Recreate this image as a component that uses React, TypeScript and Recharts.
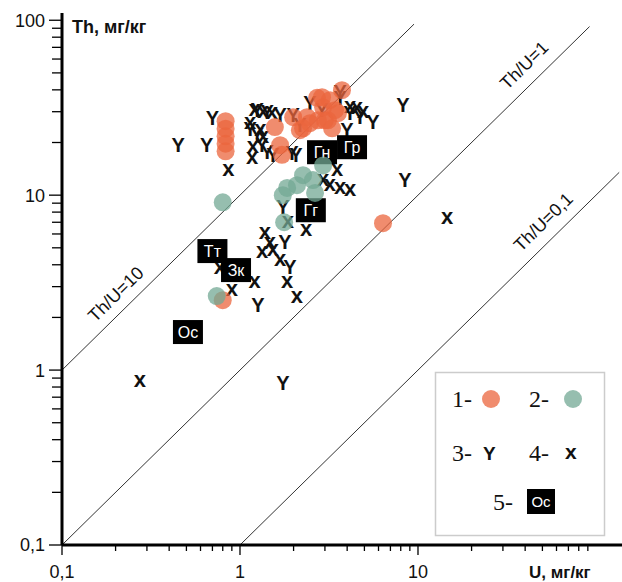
import React from 'react';
import { ScatterChart, Scatter, XAxis, YAxis, ReferenceLine } from 'recharts';

const SANS = '"Liberation Sans", Arial, sans-serif';
const SERIF = '"Liberation Serif", "Times New Roman", serif';

// ---- axis ticks ----
const xTickValues = [0.1, 0.2, 0.3, 0.4, 0.5, 0.6, 0.7, 0.8, 0.9, 1, 2, 3, 4, 5, 6, 7, 8, 9, 10, 20, 30, 40, 50, 60, 70, 80, 90];
const yTickValues = [0.1, 0.2, 0.3, 0.4, 0.5, 0.6, 0.7, 0.8, 0.9, 1, 2, 3, 4, 5, 6, 7, 8, 9, 10, 20, 30, 40, 50, 60, 70, 80, 90, 100];
const xLabelValues = [0.1, 1, 10];
const xLabelTexts = ['0,1', '1', '10'];
const yLabelValues = [0.1, 1, 10, 100];
const yLabelTexts = ['0,1', '1', '10', '100'];

// ---- data: U (x), Th (y), mg/kg ----
const group1Orange = [
  { u: 0.83, th: 26.5 }, { u: 0.83, th: 24.0 }, { u: 0.83, th: 21.7 }, { u: 0.83, th: 19.7 }, { u: 0.83, th: 17.8 },
  { u: 1.57, th: 24.5 }, { u: 1.68, th: 19.3 }, { u: 1.72, th: 17.0 }, { u: 1.99, th: 27.9 }, { u: 2.17, th: 23.5 },
  { u: 2.26, th: 24.1 }, { u: 2.38, th: 27.9 }, { u: 2.47, th: 25.8 }, { u: 2.71, th: 36.0 }, { u: 2.74, th: 26.8 },
  { u: 2.89, th: 36.3 }, { u: 2.93, th: 31.8 }, { u: 3.0, th: 26.8 }, { u: 3.12, th: 26.8 }, { u: 3.2, th: 34.9 },
  { u: 3.29, th: 24.1 }, { u: 3.42, th: 30.6 }, { u: 3.55, th: 29.4 }, { u: 3.74, th: 39.8 }, { u: 6.36, th: 6.92 },
  { u: 0.80, th: 2.51 },
];

const group2Teal = [
  { u: 0.80, th: 9.1 }, { u: 2.93, th: 14.8 }, { u: 2.26, th: 13.0 }, { u: 2.57, th: 12.2 }, { u: 2.09, th: 11.4 },
  { u: 1.84, th: 11.0 }, { u: 1.74, th: 10.0 }, { u: 2.64, th: 10.3 }, { u: 1.77, th: 7.0 }, { u: 0.74, th: 2.65 },
];

const group3Y = [
  { u: 0.45, th: 19.3 }, { u: 0.65, th: 19.3 }, { u: 0.70, th: 27.6 }, { u: 1.25, th: 30.6 }, { u: 1.42, th: 29.8 },
  { u: 1.68, th: 28.7 }, { u: 1.14, th: 24.1 }, { u: 1.25, th: 22.0 }, { u: 1.33, th: 19.3 }, { u: 1.42, th: 17.6 },
  { u: 1.53, th: 16.9 }, { u: 2.06, th: 16.9 }, { u: 2.47, th: 33.6 }, { u: 2.89, th: 30.6 }, { u: 2.17, th: 25.1 },
  { u: 3.65, th: 36.0 }, { u: 4.15, th: 29.4 }, { u: 4.72, th: 27.9 }, { u: 5.59, th: 26.1 }, { u: 3.99, th: 23.5 },
  { u: 8.24, th: 32.7 }, { u: 8.45, th: 12.2 }, { u: 1.74, th: 8.54 }, { u: 1.79, th: 5.39 }, { u: 1.91, th: 3.88 },
  { u: 1.26, th: 2.35 }, { u: 1.74, th: 0.843 }, { u: 3.65, th: 38.8 }, { u: 1.99, th: 28.7 }, { u: 1.96, th: 17.4 },
];

const group4X = [
  { u: 0.86, th: 13.9 }, { u: 1.17, th: 16.3 }, { u: 1.21, th: 30.6 }, { u: 1.35, th: 29.8 }, { u: 1.51, th: 29.4 },
  { u: 1.14, th: 25.8 }, { u: 1.30, th: 23.5 }, { u: 1.35, th: 21.4 }, { u: 1.18, th: 18.8 }, { u: 4.15, th: 31.8 },
  { u: 4.54, th: 31.3 }, { u: 4.91, th: 29.8 }, { u: 3.51, th: 13.9 }, { u: 2.93, th: 12.2 }, { u: 3.2, th: 11.4 },
  { u: 3.65, th: 11.0 }, { u: 4.15, th: 10.7 }, { u: 1.86, th: 7.0 }, { u: 2.35, th: 6.31 }, { u: 1.38, th: 6.07 },
  { u: 1.47, th: 5.32 }, { u: 1.33, th: 4.72 }, { u: 1.53, th: 4.85 }, { u: 1.68, th: 4.25 }, { u: 1.84, th: 3.18 },
  { u: 2.09, th: 2.61 }, { u: 1.21, th: 3.18 }, { u: 0.77, th: 3.83 }, { u: 0.90, th: 2.86 }, { u: 14.6, th: 7.39 },
  { u: 0.274, th: 0.865 },
];

const group5Boxes = [
  { u: 2.89, th: 17.6, label: 'Гн' },
  { u: 4.26, th: 18.8, label: 'Гр' },
  { u: 2.5, th: 8.2, label: 'Гг' },
  { u: 0.70, th: 4.79, label: 'Тт' },
  { u: 0.95, th: 3.73, label: 'Зк' },
  { u: 0.51, th: 1.65, label: 'Ос' },
];

const ratioLines = [
  { from: { x: 0.1, y: 1 }, to: { x: 9.5, y: 95 } },
  { from: { x: 0.1, y: 0.1 }, to: { x: 92, y: 92 } },
  { from: { x: 1, y: 0.1 }, to: { x: 135, y: 13.5 } },
];

const ratioLabels = [
  { u: 0.2, th: 2.72, text: 'Th/U=10' },
  { u: 39.4, th: 55.5, text: 'Th/U=1' },
  { u: 50.4, th: 7.05, text: 'Th/U=0,1' },
];

const ORANGE = '#EB663E';
const TEAL = '#73A894';
const ANGLE = -44.5;

const XTick = (props: any) => {
  const { x, y, payload } = props;
  const idx = xLabelValues.indexOf(payload.value);
  const major = idx >= 0;
  return (
    <g>
      <line x1={x} x2={x} y1={y} y2={y + (major ? 10 : 6)} stroke="#000" strokeWidth={1.3} />
      {major && (
        <text x={x} y={y + 33} textAnchor="middle" fontSize={18} fontFamily={SANS} fill="#111">
          {xLabelTexts[idx]}
        </text>
      )}
    </g>
  );
};

const YTick = (props: any) => {
  const { x, y, payload } = props;
  const idx = yLabelValues.indexOf(payload.value);
  const major = idx >= 0;
  return (
    <g>
      <line x1={x - (major ? 13 : 10)} x2={x} y1={y} y2={y} stroke="#000" strokeWidth={1.3} />
      {major && (
        <text x={x - 17} y={y} dy="0.36em" textAnchor="end" fontSize={18} fontFamily={SANS} fill="#111">
          {yLabelTexts[idx]}
        </text>
      )}
    </g>
  );
};

const CircleShape = (color: string) => (props: any) => (
  <circle cx={props.cx} cy={props.cy} r={9} fill={color} fillOpacity={0.75} />
);

const YShape = (props: any) => (
  <text x={props.cx} y={props.cy} dy="0.36em" textAnchor="middle" fontSize={20} fontWeight="bold" fontFamily={SANS} fill="#111">
    Y
  </text>
);

const XShape = (props: any) => (
  <text x={props.cx} y={props.cy} dy="0.27em" textAnchor="middle" fontSize={22} fontWeight="bold" fontFamily={SANS} fill="#111">
    x
  </text>
);

const BoxShape = (props: any) => {
  const { cx, cy, payload } = props;
  return (
    <g>
      <rect x={cx - 15} y={cy - 12} width={30} height={24} fill="#000" />
      <text x={cx} y={cy} dy="0.36em" textAnchor="middle" fontSize={16} fontFamily={SANS} fill="#fff">
        {payload.label}
      </text>
    </g>
  );
};

const LabelShape = (props: any) => {
  const { cx, cy, payload } = props;
  return (
    <text
      x={cx}
      y={cy}
      dy="0.36em"
      textAnchor="middle"
      fontSize={18}
      fontFamily={SANS}
      fill="#111"
      transform={`rotate(${ANGLE} ${cx} ${cy})`}
    >
      {payload.text}
    </text>
  );
};

export default function App() {
  return (
    <div style={{ position: 'absolute', left: 0, top: 0, width: 622, height: 582, background: '#fff' }}>
      <ScatterChart width={622} height={582} margin={{ top: 13, right: 0, bottom: 0, left: 0 }}>
        <XAxis
          type="number"
          dataKey="u"
          scale="log"
          domain={[0.1, 140]}
          allowDataOverflow
          ticks={xTickValues}
          interval={0}
          tick={<XTick />}
          tickLine={false}
          tickSize={0}
          tickMargin={0}
          height={37}
          axisLine={{ stroke: '#000', strokeWidth: 3 }}
        />
        <YAxis
          type="number"
          dataKey="th"
          scale="log"
          domain={[0.1, 110]}
          allowDataOverflow
          ticks={yTickValues}
          interval={0}
          tick={<YTick />}
          tickLine={false}
          tickSize={0}
          tickMargin={0}
          width={62}
          axisLine={{ stroke: '#000', strokeWidth: 3 }}
        />
        {ratioLines.map((l, i) => (
          <ReferenceLine key={i} segment={[l.from, l.to]} stroke="#333" strokeWidth={1} ifOverflow="visible" />
        ))}
        <Scatter data={ratioLabels} shape={LabelShape} isAnimationActive={false} />
        <Scatter data={group3Y} shape={YShape} isAnimationActive={false} />
        <Scatter data={group4X} shape={XShape} isAnimationActive={false} />
        <Scatter data={group1Orange} shape={CircleShape(ORANGE)} isAnimationActive={false} />
        <Scatter data={group5Boxes} shape={BoxShape} isAnimationActive={false} />
        <Scatter data={group2Teal} shape={CircleShape(TEAL)} isAnimationActive={false} />
      </ScatterChart>
      <svg width={622} height={582} style={{ position: 'absolute', left: 0, top: 0, pointerEvents: 'none' }}>
        <text x={72} y={33} fontSize={18} fontWeight="bold" fontFamily={SANS} fill="#111">Th, мг/кг</text>
        <text x={529} y={578} fontSize={17} fontWeight="bold" fontFamily={SANS} fill="#111">U, мг/кг</text>
        <rect x={435.5} y={372.5} width={169} height={163} fill="#fff" stroke="#ccc" strokeWidth={1.5} />
        <text x={452} y={399} dy="0.34em" fontSize={24} fontFamily={SERIF} fill="#111">1-</text>
        <circle cx={491} cy={399} r={9} fill={ORANGE} fillOpacity={0.75} />
        <text x={529} y={399} dy="0.34em" fontSize={24} fontFamily={SERIF} fill="#111">2-</text>
        <circle cx={573} cy={399} r={9} fill={TEAL} fillOpacity={0.75} />
        <text x={452} y={453} dy="0.34em" fontSize={24} fontFamily={SERIF} fill="#111">3-</text>
        <text x={483} y={453} dy="0.36em" fontSize={19} fontWeight="bold" fontFamily={SANS} fill="#111">Y</text>
        <text x={529} y={453} dy="0.34em" fontSize={24} fontFamily={SERIF} fill="#111">4-</text>
        <text x={565} y={453} dy="0.27em" fontSize={21} fontWeight="bold" fontFamily={SANS} fill="#111">x</text>
        <text x={493} y={502} dy="0.34em" fontSize={24} fontFamily={SERIF} fill="#111">5-</text>
        <rect x={527} y={489} width={28} height={25} fill="#000" />
        <text x={541} y={501.5} dy="0.36em" textAnchor="middle" fontSize={15} fontFamily={SANS} fill="#fff">Oc</text>
      </svg>
    </div>
  );
}
